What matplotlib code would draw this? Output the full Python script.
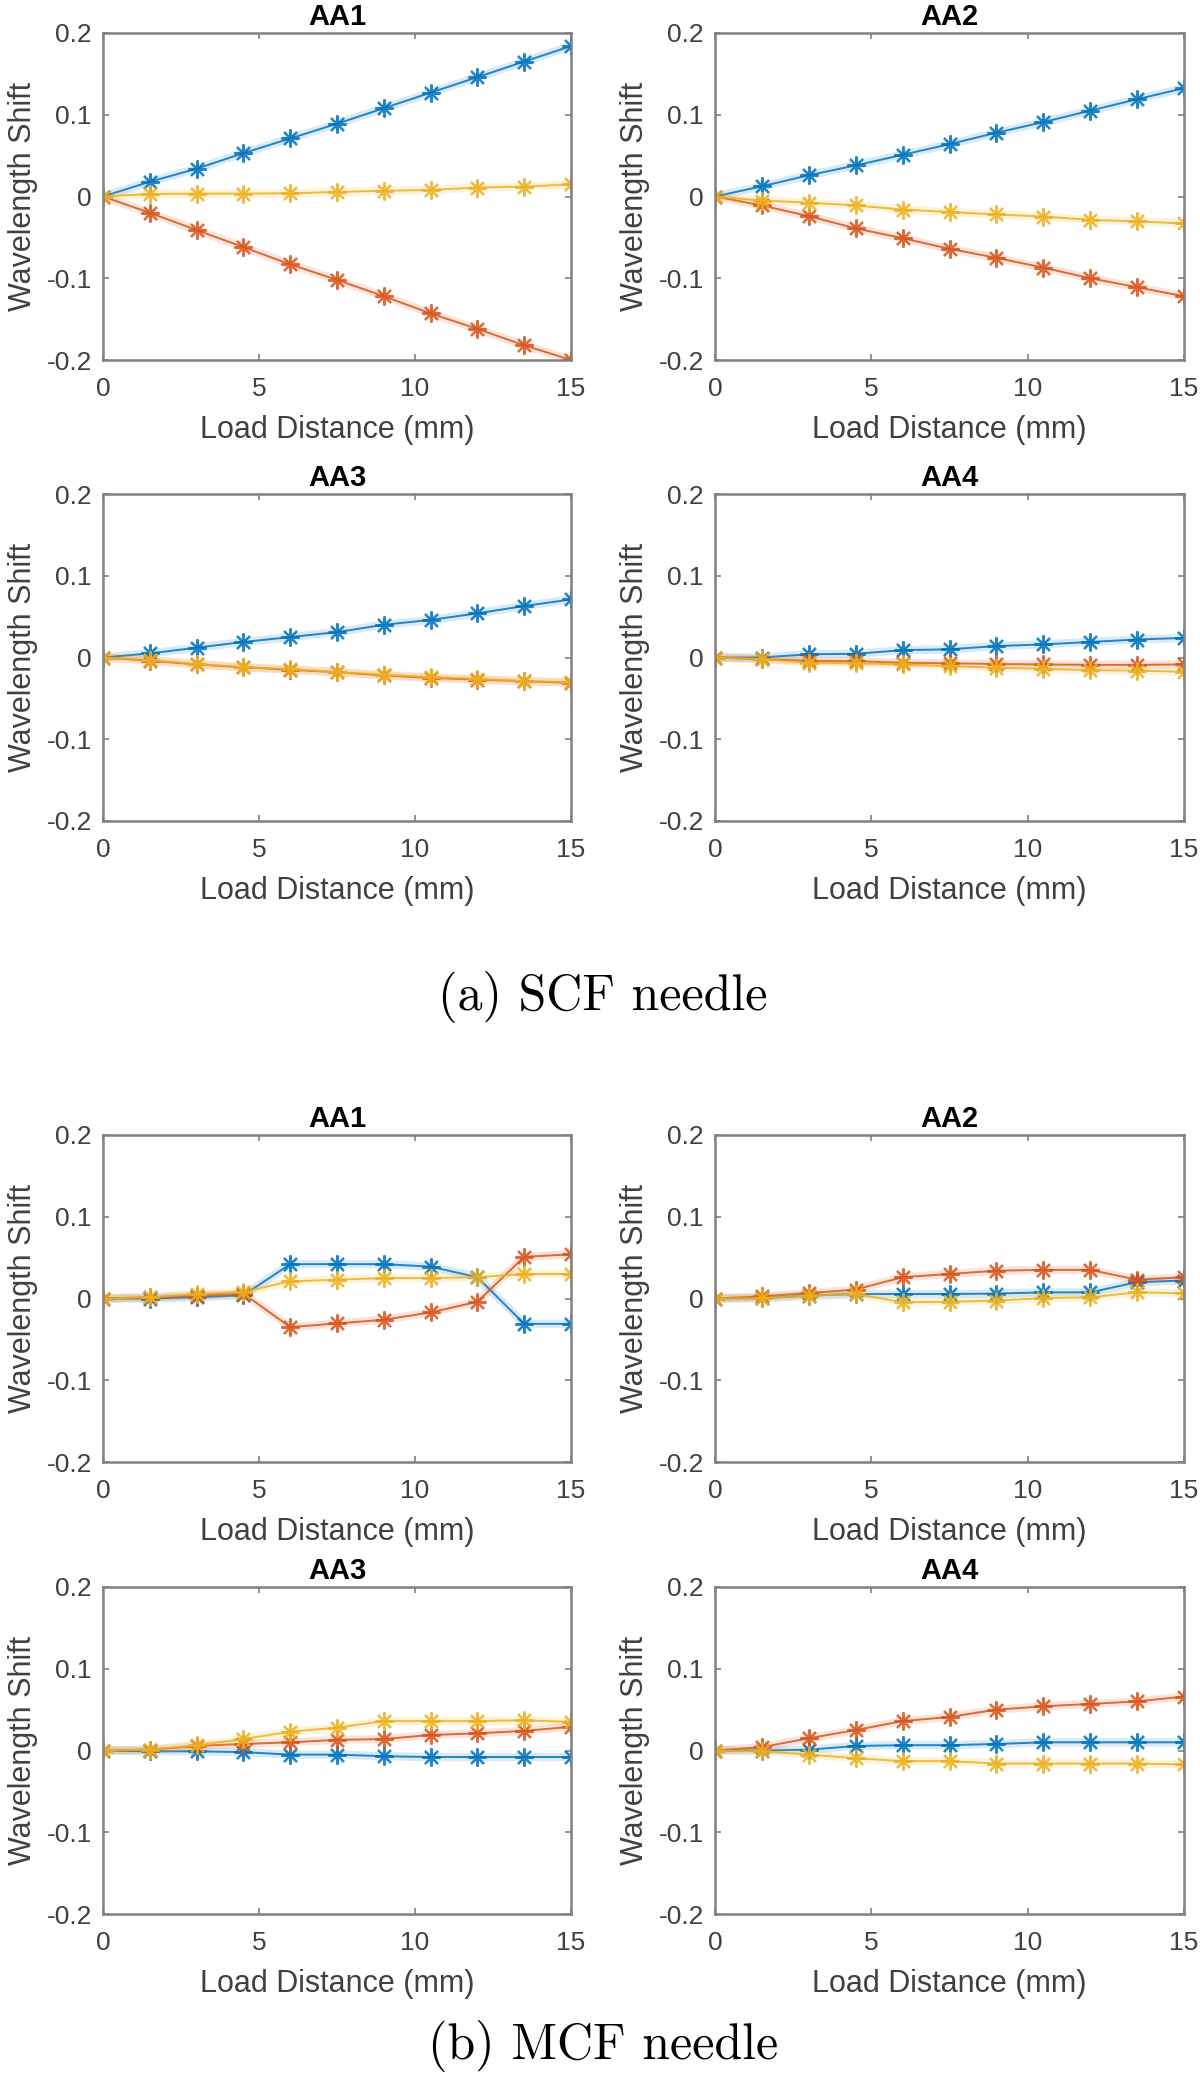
import numpy as np
import matplotlib
matplotlib.use("Agg")
import matplotlib.pyplot as plt

plt.rcParams['font.family'] = ['Liberation Sans', 'DejaVu Sans']
plt.rcParams['axes.unicode_minus'] = False

# load distance (mm)
x = [0, 1.5, 3, 4.5, 6, 7.5, 9, 10.5, 12, 13.5, 15]

# (a) SCF needle
scf_aa1_blue = [0, 0.018, 0.034, 0.053, 0.071, 0.089, 0.108, 0.127, 0.146, 0.165, 0.184]
scf_aa1_red = [0, -0.020, -0.041, -0.062, -0.083, -0.102, -0.122, -0.143, -0.162, -0.182, -0.200]
scf_aa1_yellow = [0, 0.003, 0.0035, 0.0035, 0.004, 0.0055, 0.007, 0.008, 0.011, 0.012, 0.015]

scf_aa2_blue = [0, 0.0125, 0.026, 0.038, 0.051, 0.064, 0.078, 0.091, 0.105, 0.119, 0.1325]
scf_aa2_red = [0, -0.011, -0.024, -0.039, -0.051, -0.064, -0.075, -0.087, -0.100, -0.111, -0.122]
scf_aa2_yellow = [0, -0.005, -0.0075, -0.011, -0.016, -0.019, -0.022, -0.0245, -0.0285, -0.0305, -0.033]

scf_aa3_blue = [0, 0.005, 0.012, 0.019, 0.025, 0.031, 0.040, 0.046, 0.054, 0.063, 0.071]
scf_aa3_red = [0, -0.004, -0.0085, -0.012, -0.015, -0.018, -0.022, -0.025, -0.027, -0.029, -0.031]
scf_aa3_yellow = [0, -0.003, -0.008, -0.012, -0.014, -0.018, -0.021, -0.024, -0.026, -0.029, -0.030]

scf_aa4_blue = [0, 0, 0.004, 0.0045, 0.009, 0.010, 0.014, 0.016, 0.019, 0.022, 0.024]
scf_aa4_red = [0, -0.002, -0.004, -0.0045, -0.0065, -0.007, -0.008, -0.0085, -0.009, -0.009, -0.0085]
scf_aa4_yellow = [0, -0.002, -0.0065, -0.007, -0.0085, -0.0105, -0.0125, -0.014, -0.0155, -0.016, -0.0175]

# (b) MCF needle
mcf_aa1_blue = [0, 0, 0.0015, 0.004, 0.042, 0.042, 0.042, 0.039, 0.026, -0.031, -0.031]
mcf_aa1_red = [0, 0.0015, 0.0035, 0.006, -0.035, -0.0305, -0.026, -0.017, -0.004, 0.051, 0.054]
mcf_aa1_yellow = [0, 0.0015, 0.0055, 0.008, 0.021, 0.023, 0.025, 0.025, 0.026, 0.030, 0.030]

mcf_aa2_blue = [0, 0.0005, 0.0035, 0.0055, 0.0055, 0.0055, 0.006, 0.0075, 0.0075, 0.020, 0.022]
mcf_aa2_red = [0, 0.0025, 0.0065, 0.011, 0.026, 0.030, 0.034, 0.035, 0.035, 0.023, 0.026]
mcf_aa2_yellow = [0, 0.0005, 0.0035, 0.0055, -0.0045, -0.004, -0.0025, 0.0005, 0.0015, 0.0075, 0.0065]

mcf_aa3_blue = [0, -0.001, -0.001, -0.002, -0.005, -0.005, -0.007, -0.008, -0.008, -0.008, -0.008]
mcf_aa3_red = [0, 0.001, 0.0055, 0.008, 0.010, 0.013, 0.014, 0.019, 0.021, 0.024, 0.029]
mcf_aa3_yellow = [0, 0.001, 0.0065, 0.014, 0.023, 0.028, 0.036, 0.036, 0.036, 0.037, 0.035]

mcf_aa4_blue = [0, 0, 0.001, 0.0055, 0.0065, 0.0065, 0.008, 0.010, 0.010, 0.010, 0.010]
mcf_aa4_red = [0, 0.004, 0.015, 0.025, 0.036, 0.041, 0.050, 0.054, 0.057, 0.060, 0.066]
mcf_aa4_yellow = [0, -0.001, -0.005, -0.0095, -0.013, -0.013, -0.016, -0.016, -0.016, -0.016, -0.017]

titles = ["AA1", "AA2", "AA3", "AA4"]
yticks = [-0.2, -0.1, 0, 0.1, 0.2]
ytick_labels = ["-0.2", "-0.1", "0", "0.1", "0.2"]
xticks = [0, 5, 10, 15]

scf = [(scf_aa1_blue, scf_aa1_red, scf_aa1_yellow),
       (scf_aa2_blue, scf_aa2_red, scf_aa2_yellow),
       (scf_aa3_blue, scf_aa3_red, scf_aa3_yellow),
       (scf_aa4_blue, scf_aa4_red, scf_aa4_yellow)]
mcf = [(mcf_aa1_blue, mcf_aa1_red, mcf_aa1_yellow),
       (mcf_aa2_blue, mcf_aa2_red, mcf_aa2_yellow),
       (mcf_aa3_blue, mcf_aa3_red, mcf_aa3_yellow),
       (mcf_aa4_blue, mcf_aa4_red, mcf_aa4_yellow)]

colors = ["#0072BD", "#D95319", "#EDB120"]

W, H = 1200, 2075
fig = plt.figure(figsize=(W / 100, H / 100), dpi=100)


def add_ax(left, top, width, height):
    return fig.add_axes([left / W, 1 - (top + height) / H, width / W, height / H])


# pixel boxes (left, right) per column, top per row
col_box = [(103, 571), (715, 1184)]
row_top = [33, 494, 1135, 1587]
ax_h = 327


def draw_panel(ax, series, title):
    for ys, c in zip(series, colors):
        # soft halo like the blurred original
        ax.plot(x, ys, color=c, lw=6, alpha=0.15, solid_capstyle='round')
        ax.plot(x, ys, color=c, lw=1.4, marker=(8, 2, 0), markersize=13,
                markeredgewidth=1.6, alpha=0.85)
    ax.set_xlim(0, 15)
    ax.set_ylim(-0.2, 0.2)
    ax.set_xticks(xticks)
    ax.set_yticks(yticks, ytick_labels)
    ax.tick_params(direction='in', length=4, width=1.2, color='#808080',
                   labelsize=19, labelcolor='#404040', top=True, right=True)
    ax.tick_params(axis='x', pad=12)
    ax.tick_params(axis='y', pad=8)
    for sp in ax.spines.values():
        sp.set_color('#808080')
        sp.set_linewidth(1.8)
    ax.set_title(title, fontsize=21, fontweight='bold', pad=6)
    ax.set_xlabel("Load Distance (mm)", fontsize=22, color='#404040', labelpad=10)
    ax.set_ylabel("Wavelength Shift", fontsize=22, color='#404040', labelpad=6)


for block, r0 in ((scf, 0), (mcf, 2)):
    for i, series in enumerate(block):
        r = r0 + i // 2
        c = i % 2
        l, rgt = col_box[c]
        ax = add_ax(l, row_top[r], rgt - l, ax_h)
        draw_panel(ax, series, titles[i])

fig.text(603 / W, 1 - 997 / H, "(a) SCF needle", family='cmr10', fontsize=36,
         ha='center', va='center')
fig.text(603 / W, 1 - 2046 / H, "(b) MCF needle", family='cmr10', fontsize=36,
         ha='center', va='center')

fig.savefig("out.png", dpi=100, facecolor='white')
